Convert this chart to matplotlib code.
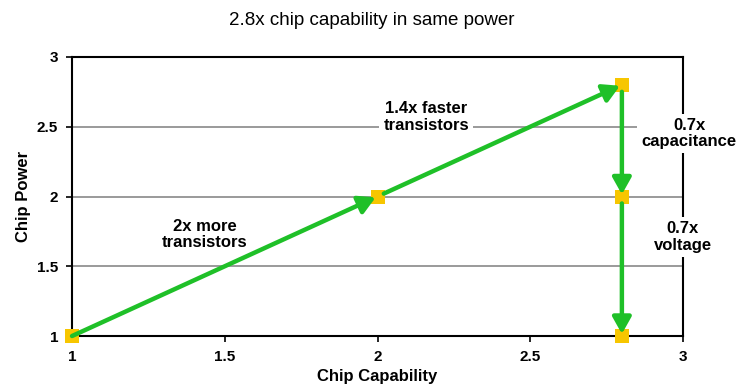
import matplotlib
matplotlib.use("Agg")
import matplotlib.pyplot as plt

# ── data ──
chip_capability = [1.0, 2.0, 2.8, 2.8, 2.8]
chip_power      = [1.0, 2.0, 2.8, 2.0, 1.0]

step_labels = ["2x more\ntransistors", "1.4x faster\ntransistors",
               "0.7x\ncapacitance", "0.7x\nvoltage"]
label_x = [1.435, 2.16, 3.02, 3.0]
label_y = [1.73, 2.57, 2.45, 1.71]

x_ticks = [1, 1.5, 2, 2.5, 3]
y_ticks = [1, 1.5, 2, 2.5, 3]
x_tick_labels = ["1", "1.5", "2", "2.5", "3"]
y_tick_labels = ["1", "1.5", "2", "2.5", "3"]

GREEN  = "#1fc028"
YELLOW = "#f7c600"
GRID   = "#7f7f7f"

plt.rcParams["font.family"] = ["Liberation Sans", "DejaVu Sans"]

fig = plt.figure(figsize=(7.41, 3.89), dpi=100)
ax = fig.add_axes([0.0972, 0.1362, 0.8245, 0.7173])

ax.set_xlim(1, 3)
ax.set_ylim(1, 3)

# horizontal grid only
for yv in y_ticks[1:-1]:
    ax.axhline(yv, color=GRID, linewidth=1.1, zorder=1)

# yellow squares at each step
ax.scatter(chip_capability, chip_power, marker="s", s=90, color=YELLOW,
           zorder=3, clip_on=False, linewidths=0)

# step annotations with white boxes over grid / spine
for txt, tx, ty in zip(step_labels, label_x, label_y):
    ax.text(tx, ty, txt, ha="center", va="center", fontsize=12,
            fontweight="bold", linespacing=1.1, zorder=4, clip_on=False,
            bbox=dict(boxstyle="square,pad=0.25", facecolor="white",
                      edgecolor="none"))

# green arrows between consecutive points
for i in range(len(chip_capability) - 1):
    start = (chip_capability[i], chip_power[i])
    end = (chip_capability[i + 1], chip_power[i + 1])
    ax.annotate("", xy=end, xytext=start,
                arrowprops=dict(arrowstyle="-|>,head_length=0.5,head_width=0.28",
                                color=GREEN, lw=3.2, mutation_scale=20,
                                shrinkA=5 if i > 0 else 0, shrinkB=1.5),
                zorder=6, annotation_clip=False)

ax.set_xticks(x_ticks)
ax.set_xticklabels(x_tick_labels)
ax.set_yticks(y_ticks)
ax.set_yticklabels(y_tick_labels)
ax.tick_params(axis="both", direction="out", length=4, width=1.2,
               labelsize=11, pad=6)
for lbl in ax.get_xticklabels() + ax.get_yticklabels():
    lbl.set_fontweight("bold")

for spine in ax.spines.values():
    spine.set_color("black")
    spine.set_linewidth(1.5)
    spine.set_zorder(2)

ax.set_xlabel("Chip Capability", fontsize=12, fontweight="bold", labelpad=4)
ax.set_ylabel("Chip Power", fontsize=12, fontweight="bold", labelpad=4)

fig.text(0.502, 0.947, "2.8x chip capability in same power",
         ha="center", va="center", fontsize=13.5)

fig.savefig("out.png", dpi=100, facecolor="white")
